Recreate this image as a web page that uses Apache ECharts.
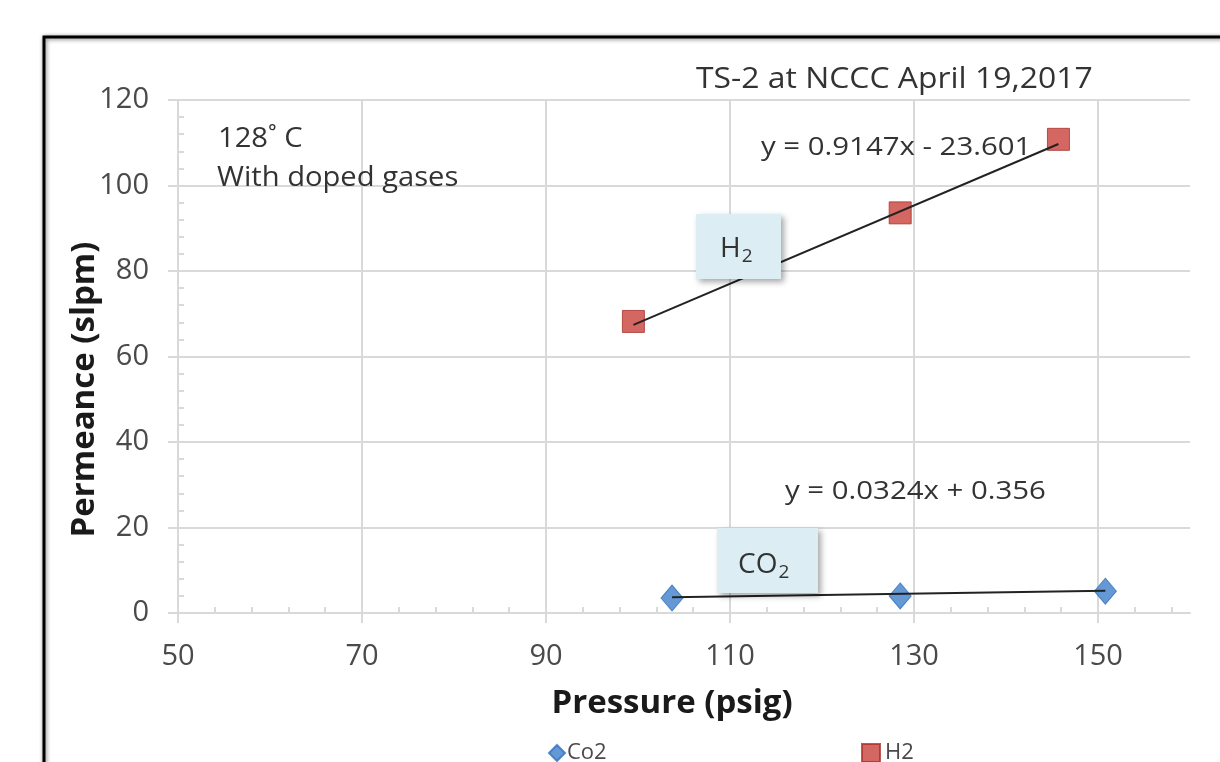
<!DOCTYPE html>
<html><head><meta charset="utf-8">
<script src="https://cdn.jsdelivr.net/npm/echarts@6/dist/echarts.min.js"></script>
<style>html,body{margin:0;padding:0;background:#fff}#c{width:1220px;height:762px}</style>
</head><body><div id="c"></div>
<script>
// data
const co2Points = [[103.7, 3.5], [128.5, 4.0], [150.8, 5.1]];
const h2Points = [[99.5, 68.2], [128.5, 93.6], [145.7, 110.8]];
const co2Trend = [[103.7, 3.7], [150.8, 5.2]];
const h2Trend = [[99.5, 67.4], [145.7, 109.7]];
const seriesNames = ['Co2', 'H2'];
const titleText = 'TS-2 at NCCC April 19,2017';
const h2Equation = 'y = 0.9147x - 23.601';
const co2Equation = 'y = 0.0324x + 0.356';
const noteLines = ['128\u02da C', 'With doped gases'];
const xName = 'Pressure (psig)';
const yName = 'Permeance (slpm)';

const FONT = 'Open Sans';
const chart = echarts.init(document.getElementById('c'));
const gridCol = '#d9d9d9';
const labelCol = '#4a4a4a';
const txtCol = '#333333';
chart.setOption({
  backgroundColor: '#fff',
  animation: false,
  textStyle: {fontFamily: FONT},
  grid: {left: 178, right: 30, top: 100, bottom: 149, containLabel: false},
  xAxis: [{
    type: 'value', min: 50, max: 160, interval: 20,
    name: xName, nameLocation: 'middle', nameGap: 74,
    nameTextStyle: {fontSize: 33, fontWeight: 'bold', color: '#1a1a1a', fontFamily: FONT, padding: [0, 24, 0, 0]},
    axisLine: {show: true, lineStyle: {color: gridCol, width: 2}},
    axisTick: {show: true, inside: false, length: 10, lineStyle: {color: gridCol, width: 2}},
    axisLabel: {fontSize: 29, color: labelCol, margin: 29, showMaxLabel: false, fontFamily: FONT},
    splitLine: {show: true, showMaxLine: false, lineStyle: {color: gridCol, width: 2}},
    minorTick: {show: false}
  }, {
    type: 'value', min: 50, max: 160, interval: 20, position: 'bottom',
    axisLine: {show: false},
    axisTick: {show: false, inside: true},
    axisLabel: {show: false},
    splitLine: {show: false},
    minorTick: {show: true, splitNumber: 5, length: 6, lineStyle: {color: gridCol, width: 2}}
  }],
  yAxis: [{
    type: 'value', min: 0, max: 120, interval: 20,
    name: yName, nameLocation: 'middle', nameGap: 77, nameMoveOverlap: false,
    nameTextStyle: {fontSize: 33, fontWeight: 'bold', color: '#1a1a1a', fontFamily: FONT, padding: [0, 66, 0, 0]},
    axisLine: {show: true, lineStyle: {color: gridCol, width: 2}},
    axisTick: {show: true, inside: false, length: 10, lineStyle: {color: gridCol, width: 2}},
    axisLabel: {fontSize: 29, color: labelCol, margin: 29, fontFamily: FONT},
    splitLine: {show: true, lineStyle: {color: gridCol, width: 2}},
    minorTick: {show: false}
  }, {
    type: 'value', min: 0, max: 120, interval: 20, position: 'left',
    axisLine: {show: false},
    axisTick: {show: false, inside: true},
    axisLabel: {show: false},
    splitLine: {show: false},
    minorTick: {show: true, splitNumber: 5, length: 6, lineStyle: {color: gridCol, width: 2}}
  }],
  legend: [{
    data: [{name: seriesNames[0], icon: 'diamond'}],
    left: 543, top: 737, itemWidth: 16, itemHeight: 16, itemGap: 4,
    textStyle: {fontSize: 22, color: labelCol, fontFamily: FONT, padding: [0, 0, 0, -3]}
  }, {
    data: [{name: seriesNames[1], icon: 'rect'}],
    left: 856, top: 737, itemWidth: 18, itemHeight: 18, itemGap: 4,
    textStyle: {fontSize: 22, color: labelCol, fontFamily: FONT, padding: [0, 0, 0, 0]}
  }],
  series: [
    {name: seriesNames[0], type: 'scatter', data: co2Points, symbol: 'diamond', symbolSize: [22, 26], z: 5,
     itemStyle: {color: '#3f7fcc', borderColor: '#3470ba', borderWidth: 1}},
    {name: seriesNames[1], type: 'scatter', data: h2Points, symbol: 'rect', symbolSize: 22, z: 5,
     itemStyle: {color: '#c9413b', borderColor: '#a8322c', borderWidth: 1}},
    {name: 'co2trend', type: 'line', data: co2Trend, symbol: 'none', z: 6,
     lineStyle: {color: '#222', width: 2}},
    {name: 'h2trend', type: 'line', data: h2Trend, symbol: 'none', z: 6,
     lineStyle: {color: '#222', width: 2}}
  ],
  graphic: [
    {type: 'rect', shape: {x: 44, y: 37, width: 1300, height: 900}, z: -10, silent: true,
     style: {fill: '#fff', stroke: '#000', lineWidth: 3, shadowBlur: 4, shadowColor: 'rgba(0,0,0,0.5)', shadowOffsetX: 1, shadowOffsetY: 1}},
    {type: 'text', x: 696, y: 80, z: 10, scaleX: 1.1,
     style: {text: titleText, fontSize: 29, fill: txtCol, fontFamily: FONT, verticalAlign: 'middle'}},
    {type: 'text', x: 218, y: 139, z: 10, scaleX: 1.08,
     style: {text: noteLines[0], fontSize: 27, fill: txtCol, fontFamily: FONT, verticalAlign: 'middle'}},
    {type: 'text', x: 217, y: 178, z: 10, scaleX: 1.08,
     style: {text: noteLines[1], fontSize: 27, fill: txtCol, fontFamily: FONT, verticalAlign: 'middle'}},
    {type: 'text', x: 761, y: 148, z: 10, scaleX: 1.13,
     style: {text: h2Equation, fontSize: 26, fill: txtCol, fontFamily: FONT, verticalAlign: 'middle'}},
    {type: 'text', x: 785, y: 492, z: 10, scaleX: 1.13,
     style: {text: co2Equation, fontSize: 26, fill: txtCol, fontFamily: FONT, verticalAlign: 'middle'}},
    {type: 'rect', shape: {x: 696, y: 214, width: 85, height: 65}, z: 20,
     style: {fill: '#dcedf4', shadowBlur: 6, shadowColor: 'rgba(0,0,0,0.35)', shadowOffsetX: 3, shadowOffsetY: 3}},
    {type: 'text', x: 720, y: 249, z: 21,
     style: {text: '{m|H}{s|2}', verticalAlign: 'middle', rich: {m: {fontSize: 28, fill: txtCol, fontFamily: FONT}, s: {fontSize: 19, fill: txtCol, fontFamily: FONT, padding: [15, 0, 0, 1]}}}},
    {type: 'rect', shape: {x: 717, y: 528, width: 101, height: 65}, z: 20,
     style: {fill: '#dcedf4', shadowBlur: 6, shadowColor: 'rgba(0,0,0,0.35)', shadowOffsetX: 3, shadowOffsetY: 3}},
    {type: 'text', x: 738, y: 565, z: 21,
     style: {text: '{m|CO}{s|2}', verticalAlign: 'middle', rich: {m: {fontSize: 28, fill: txtCol, fontFamily: FONT}, s: {fontSize: 19, fill: txtCol, fontFamily: FONT, padding: [15, 0, 0, 1]}}}}
  ]
});
</script></body></html>
